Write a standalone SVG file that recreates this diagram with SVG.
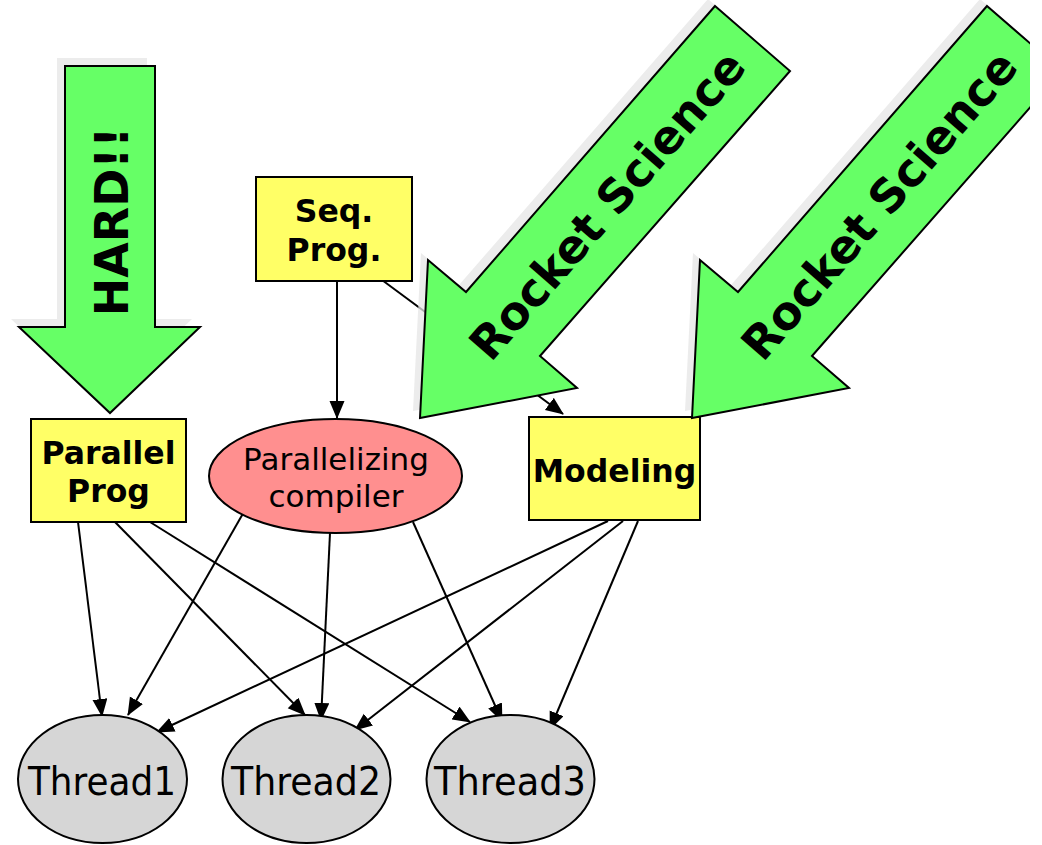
<svg xmlns="http://www.w3.org/2000/svg" width="1042" height="845" viewBox="0 0 1042 845">
  <style>
    .box { fill: #ffff66; stroke: #000; stroke-width: 2; }
    .comp { fill: #ff8f8f; stroke: #000; stroke-width: 2; }
    .thread { fill: #d6d6d6; stroke: #000; stroke-width: 2; }
    .big { fill: #66ff66; stroke: #000; stroke-width: 2; stroke-linejoin: miter; }
    .shadow { fill: #e6e6e6; opacity: 0.75; }
    .edge { stroke: #000; stroke-width: 2; fill: none; marker-end: url(#ah); }
    .lbl { font-family: "DejaVu Sans", Verdana, sans-serif; font-weight: bold; font-size: 31.5px; text-anchor: middle; fill: #000; }
    .lbln { font-family: "DejaVu Sans", Verdana, sans-serif; font-size: 31px; text-anchor: middle; fill: #000; }
    .tlbl { font-family: "DejaVu Sans", Verdana, sans-serif; font-size: 39px; text-anchor: middle; fill: #000; }
    .arrowtxt { font-family: "DejaVu Sans", Verdana, sans-serif; font-weight: bold; font-size: 46px; text-anchor: middle; fill: #000; }
  </style>
  <defs>
    <marker id="ah" markerWidth="19" markerHeight="16" refX="17" refY="7.5" orient="auto" markerUnits="userSpaceOnUse">
      <path d="M0,0 L18,7.5 L0,15 z" fill="#000"/>
    </marker>
    <clipPath id="page">
      <rect x="0" y="0" width="1030" height="845"/>
    </clipPath>
    <polygon id="rs" points="715,6 790,71 540,356 577,388 420,418 428,260 466,292"/>
  </defs>

  <rect width="1042" height="845" fill="#fff"/>

  <!-- connectors -->
  <g id="connectors">
    <line class="edge" x1="337" y1="281" x2="337" y2="418"/>
    <line class="edge" x1="382" y1="280" x2="563" y2="414"/>
    <line class="edge" x1="78" y1="522" x2="102" y2="716"/>
    <line class="edge" x1="115" y1="522" x2="305" y2="715"/>
    <line class="edge" x1="150" y1="522" x2="470" y2="722"/>
    <line class="edge" x1="245" y1="510" x2="128" y2="715"/>
    <line class="edge" x1="330" y1="533" x2="321" y2="720"/>
    <line class="edge" x1="413" y1="522" x2="502" y2="721"/>
    <line class="edge" x1="608" y1="521" x2="157" y2="732"/>
    <line class="edge" x1="623" y1="521" x2="355" y2="730"/>
    <line class="edge" x1="638" y1="521" x2="550" y2="729"/>
  </g>

  <g id="seq-prog">
    <rect class="box" x="256" y="177" width="156" height="104"/>
    <text class="lbl" x="334" y="222">Seq.</text>
    <text class="lbl" x="334" y="261">Prog.</text>
  </g>

  <g id="parallel-prog">
    <rect class="box" x="31" y="419" width="155" height="103"/>
    <text class="lbl" x="108.5" y="464">Parallel</text>
    <text class="lbl" x="108.5" y="502">Prog</text>
  </g>

  <g id="compiler">
    <ellipse class="comp" cx="335.5" cy="476" rx="126.5" ry="57"/>
    <text class="lbln" x="336" y="470">Parallelizing</text>
    <text class="lbln" x="336" y="507">compiler</text>
  </g>

  <g id="modeling">
    <rect class="box" x="529" y="417" width="171" height="103"/>
    <text class="lbl" x="614.5" y="482">Modeling</text>
  </g>

  <g id="thread1">
    <ellipse class="thread" cx="102.5" cy="779" rx="84.5" ry="64"/>
    <text class="tlbl" x="102" y="795" textLength="148" lengthAdjust="spacingAndGlyphs">Thread1</text>
  </g>
  <g id="thread2">
    <ellipse class="thread" cx="306.5" cy="779" rx="84" ry="64"/>
    <text class="tlbl" x="306" y="795" textLength="150" lengthAdjust="spacingAndGlyphs">Thread2</text>
  </g>
  <g id="thread3">
    <ellipse class="thread" cx="510.5" cy="779" rx="84" ry="64"/>
    <text class="tlbl" x="510" y="795" textLength="152" lengthAdjust="spacingAndGlyphs">Thread3</text>
  </g>

  <!-- big callout arrows -->
  <g id="hard-arrow">
    <polygon class="shadow" transform="translate(-8,-8)" points="65,66 155,66 155,327 200,327 110,413 19,327 65,327"/>
    <polygon class="big" points="65,66 155,66 155,327 200,327 110,413 19,327 65,327"/>
    <text class="arrowtxt" transform="translate(128,221.5) rotate(-90)">HARD!!</text>
  </g>

  <g id="rocket-science-1">
    <use href="#rs" class="shadow" transform="translate(-7,-7)"/>
    <use href="#rs" class="big"/>
    <text class="arrowtxt" transform="translate(619.4,215.8) rotate(-48.9)">Rocket Science</text>
  </g>

  <g id="rocket-science-2" clip-path="url(#page)">
    <use href="#rs" class="shadow" transform="translate(265,-7)"/>
    <use href="#rs" class="big" transform="translate(272,0)"/>
    <text class="arrowtxt" transform="translate(891.4,215.8) rotate(-48.9)">Rocket Science</text>
  </g>
</svg>
